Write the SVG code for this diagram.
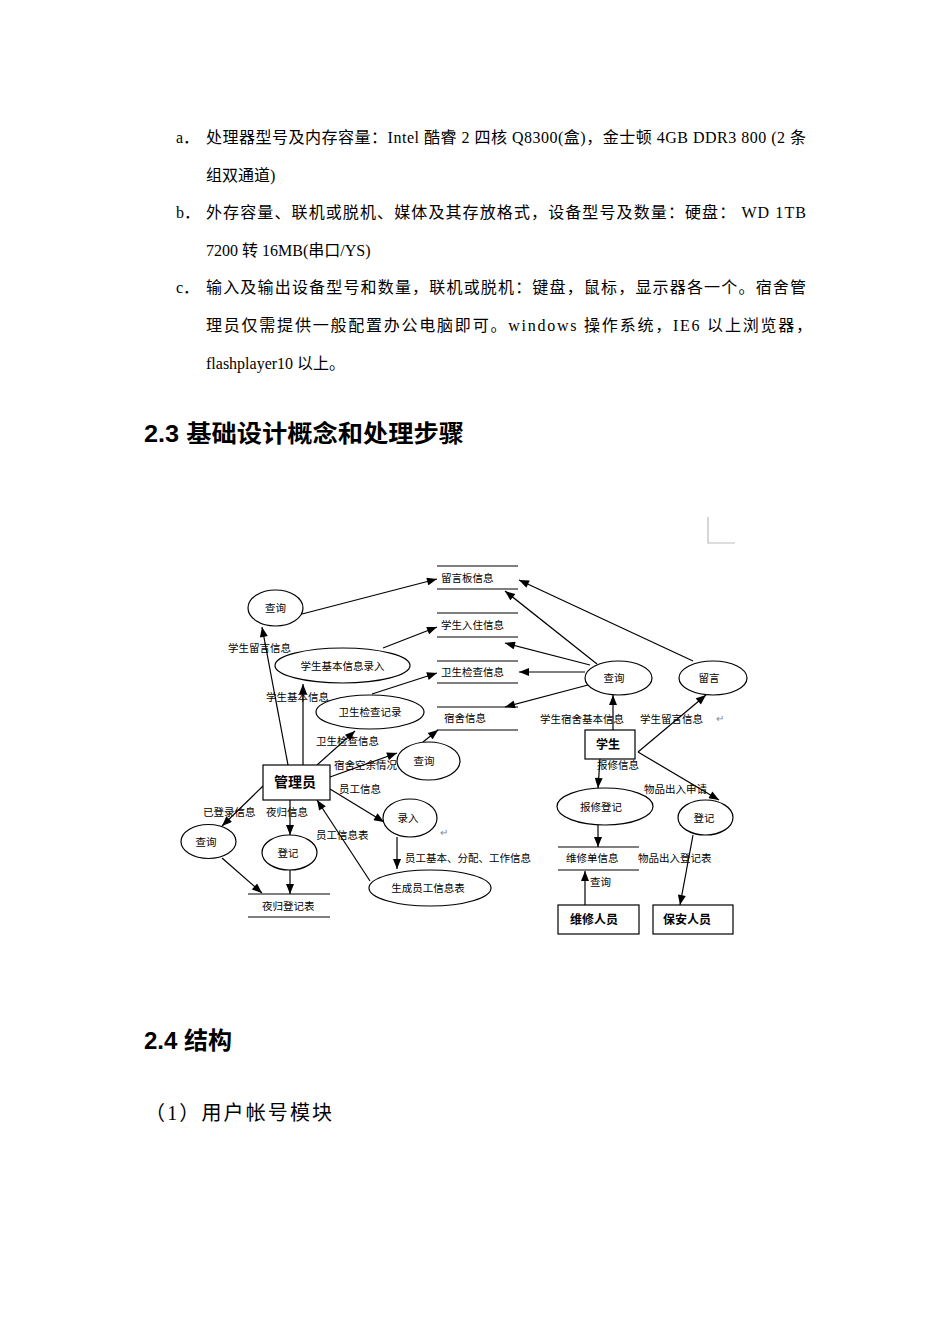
<svg xmlns="http://www.w3.org/2000/svg" width="950" height="1344" viewBox="0 0 950 1344">
<style>
.body{font-family:"Liberation Serif","Noto Sans CJK SC",serif;font-size:16px;fill:#000}
.h{font-family:"Liberation Sans","Noto Sans CJK SC",sans-serif;font-weight:bold;font-size:24px;fill:#000}
.t{font-family:"Liberation Sans","Noto Sans CJK SC",sans-serif;font-size:10.5px;fill:#000}
.tb{font-family:"Liberation Sans","Noto Sans CJK SC",sans-serif;font-size:14px;font-weight:bold;fill:#000}
.tbs{font-family:"Liberation Sans","Noto Sans CJK SC",sans-serif;font-size:12px;font-weight:bold;fill:#000}
.m{font-family:"Liberation Sans",sans-serif;font-size:10px;fill:#888}
.sh{fill:#fff;stroke:#000;stroke-width:1.2}
.ds{stroke:#000;stroke-width:1.2}
.c line{stroke:#000;stroke-width:1.2;marker-end:url(#a)}
</style>
<defs>
<marker id="a" viewBox="0 0 10 8" refX="10" refY="4" markerWidth="11" markerHeight="8" markerUnits="userSpaceOnUse" orient="auto"><path d="M0,0L10,4L0,8z" fill="#000"/></marker>
</defs>
<rect width="950" height="1344" fill="#fff"/>

<g id="text-top">
<text class="body" x="176" y="143">a．</text>
<text class="body" x="206" y="143" textLength="600" lengthAdjust="spacing">处理器型号及内存容量：Intel 酷睿 2 四核 Q8300(盒)，金士顿 4GB DDR3 800 (2 条</text>
<text class="body" x="206" y="181">组双通道)</text>
<text class="body" x="176" y="218">b．</text>
<text class="body" x="206" y="218" textLength="600" lengthAdjust="spacing">外存容量、联机或脱机、媒体及其存放格式，设备型号及数量：硬盘： WD 1TB</text>
<text class="body" x="206" y="256">7200 转 16MB(串口/YS)</text>
<text class="body" x="176" y="293">c．</text>
<text class="body" x="206" y="293" textLength="600" lengthAdjust="spacing">输入及输出设备型号和数量，联机或脱机：键盘，鼠标，显示器各一个。宿舍管</text>
<text class="body" x="206" y="331" textLength="606" lengthAdjust="spacing">理员仅需提供一般配置办公电脑即可。windows 操作系统，IE6 以上浏览器，</text>
<text class="body" x="206" y="369">flashplayer10 以上。</text>
<text class="h" x="144" y="442" textLength="320" lengthAdjust="spacingAndGlyphs">2.3 基础设计概念和处理步骤</text>
<text class="h" x="144" y="1049">2.4 结构</text>
<text class="body" x="145" y="1120" style="font-size:20px" textLength="187" lengthAdjust="spacing">（1）用户帐号模块</text>
<path d="M708,517V543H735" fill="none" stroke="#bbb" stroke-width="1.2"/>
</g>

<g id="connectors" class="c">
<line x1="302" y1="614" x2="437" y2="579"/>
<line x1="288" y1="765" x2="262" y2="627"/>
<line x1="303" y1="765" x2="303" y2="684"/>
<line x1="383" y1="648" x2="437" y2="627"/>
<line x1="372" y1="694" x2="437" y2="673"/>
<line x1="317" y1="765" x2="355" y2="731"/>
<line x1="330" y1="777" x2="397" y2="753"/>
<line x1="423" y1="742" x2="438" y2="730"/>
<line x1="330" y1="789" x2="384" y2="822"/>
<line x1="397" y1="837" x2="397" y2="869"/>
<line x1="370" y1="881" x2="317" y2="800"/>
<line x1="263" y1="786" x2="222" y2="826"/>
<line x1="290" y1="800" x2="290" y2="835"/>
<line x1="222" y1="858" x2="262" y2="893"/>
<line x1="290" y1="870" x2="290" y2="894"/>
<line x1="613" y1="730" x2="613" y2="695"/>
<line x1="597" y1="664" x2="505" y2="591"/>
<line x1="590" y1="665" x2="505" y2="643"/>
<line x1="585" y1="672" x2="519" y2="672"/>
<line x1="588" y1="685" x2="505" y2="707"/>
<line x1="693" y1="661" x2="519" y2="580"/>
<line x1="638" y1="752" x2="706" y2="695"/>
<line x1="638" y1="752" x2="719" y2="800"/>
<line x1="600" y1="759" x2="598" y2="788"/>
<line x1="598" y1="825" x2="598" y2="847"/>
<line x1="585" y1="905" x2="585" y2="871"/>
<line x1="693" y1="835" x2="680" y2="905"/>
</g>

<g id="labels">
<text class="t" x="228" y="652">学生留言信息</text>
<text class="t" x="266" y="701">学生基本信息</text>
<text class="t" x="316" y="745">卫生检查信息</text>
<text class="t" x="334" y="769">宿舍空余情况</text>
<text class="t" x="339" y="793">员工信息</text>
<text class="t" x="203" y="816">已登录信息</text>
<text class="t" x="266" y="816">夜归信息</text>
<text class="t" x="316" y="839">员工信息表</text>
<text class="t" x="405" y="862">员工基本、分配、工作信息</text>
<text class="t" x="540" y="723">学生宿舍基本信息</text>
<text class="t" x="640" y="723">学生留言信息</text>
<text class="m" x="716" y="722">↵</text>
<text class="t" x="597" y="769">报修信息</text>
<text class="t" x="644" y="793">物品出入申请</text>
<text class="t" x="638" y="862">物品出入登记表</text>
<text class="t" x="590" y="886">查询</text>
<text class="m" x="440" y="836">↵</text>
</g>

<g id="store-liuyanban"><line class="ds" x1="437" y1="566" x2="518" y2="566"/><line class="ds" x1="437" y1="589" x2="518" y2="589"/><text class="t" x="441" y="582">留言板信息</text></g>
<g id="store-ruzhu"><line class="ds" x1="437" y1="613" x2="518" y2="613"/><line class="ds" x1="437" y1="637" x2="518" y2="637"/><text class="t" x="441" y="629">学生入住信息</text></g>
<g id="store-weisheng"><line class="ds" x1="437" y1="661" x2="518" y2="661"/><line class="ds" x1="437" y1="683" x2="518" y2="683"/><text class="t" x="441" y="676">卫生检查信息</text></g>
<g id="store-sushe"><line class="ds" x1="437" y1="707" x2="518" y2="707"/><line class="ds" x1="437" y1="730" x2="518" y2="730"/><text class="t" x="444" y="722">宿舍信息</text></g>
<g id="store-yegui"><line class="ds" x1="248" y1="894" x2="330" y2="894"/><line class="ds" x1="248" y1="917" x2="330" y2="917"/><text class="t" x="262" y="910">夜归登记表</text></g>
<g id="store-weixiu"><line class="ds" x1="558" y1="847" x2="639" y2="847"/><line class="ds" x1="558" y1="870" x2="639" y2="870"/><text class="t" x="566" y="862">维修单信息</text></g>

<g id="p-chaxun1"><ellipse class="sh" cx="275.5" cy="608" rx="27.5" ry="18"/><text class="t" x="275.5" y="612" text-anchor="middle">查询</text></g>
<g id="p-jibenluru"><ellipse class="sh" cx="342.5" cy="665.5" rx="67.5" ry="17.5"/><text class="t" x="342.5" y="669.5" text-anchor="middle">学生基本信息录入</text></g>
<g id="p-weishengjilu"><ellipse class="sh" cx="370" cy="712" rx="54" ry="17"/><text class="t" x="370" y="716" text-anchor="middle">卫生检查记录</text></g>
<g id="p-chaxun2"><ellipse class="sh" cx="428.5" cy="761" rx="31.5" ry="19"/><text class="t" x="424" y="765" text-anchor="middle">查询</text></g>
<g id="p-luru"><ellipse class="sh" cx="410" cy="818" rx="27" ry="19"/><text class="t" x="408" y="822" text-anchor="middle">录入</text></g>
<g id="p-shengcheng"><ellipse class="sh" cx="430" cy="888" rx="61" ry="18"/><text class="t" x="428" y="892" text-anchor="middle">生成员工信息表</text></g>
<g id="p-chaxun3"><ellipse class="sh" cx="208.5" cy="841.5" rx="27.5" ry="17"/><text class="t" x="206" y="845.5" text-anchor="middle">查询</text></g>
<g id="p-dengji1"><ellipse class="sh" cx="289.5" cy="852.5" rx="27.5" ry="17.5"/><text class="t" x="288" y="856.5" text-anchor="middle">登记</text></g>
<g id="p-chaxun4"><ellipse class="sh" cx="618.5" cy="678" rx="33.5" ry="17"/><text class="t" x="614" y="682" text-anchor="middle">查询</text></g>
<g id="p-liuyan"><ellipse class="sh" cx="713" cy="678" rx="34" ry="17"/><text class="t" x="709" y="682" text-anchor="middle">留言</text></g>
<g id="p-baoxiu"><ellipse class="sh" cx="605" cy="806.5" rx="48" ry="18.5"/><text class="t" x="601" y="810.5" text-anchor="middle">报修登记</text></g>
<g id="p-dengji2"><ellipse class="sh" cx="705.5" cy="817.5" rx="27.5" ry="17.5"/><text class="t" x="704" y="821.5" text-anchor="middle">登记</text></g>

<g id="e-guanliyuan"><rect class="sh" x="263" y="765" width="67" height="35"/><text class="tb" x="295" y="787" text-anchor="middle">管理员</text></g>
<g id="e-xuesheng"><rect class="sh" x="585" y="730" width="50" height="29"/><text class="tbs" x="608" y="749" text-anchor="middle">学生</text></g>
<g id="e-weixiu"><rect class="sh" x="558" y="905" width="81" height="29"/><text class="tbs" x="594" y="924" text-anchor="middle">维修人员</text></g>
<g id="e-baoan"><rect class="sh" x="653" y="905" width="80" height="29"/><text class="tbs" x="687" y="924" text-anchor="middle">保安人员</text></g>
</svg>
